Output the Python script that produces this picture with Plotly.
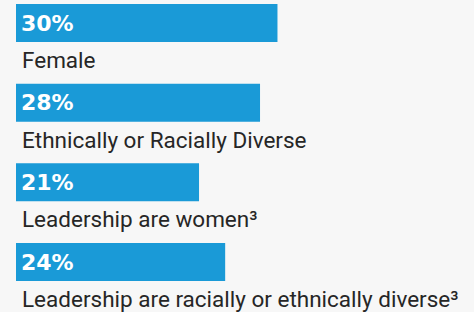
import plotly.graph_objects as go

categories = [
    "Female",
    "Ethnically or Racially Diverse",
    "Leadership are women³",
    "Leadership are racially or ethnically diverse³",
]
values = [30, 28, 21, 24]
value_labels = ["30%", "28%", "21%", "24%"]

BAR_COLOR = "#1a9ad7"
BG = "#f7f7f7"
TEXT = "#262626"

fig = go.Figure()
fig.add_trace(go.Bar(
    x=values,
    y=categories,
    orientation="h",
    width=0.477,
    marker=dict(color=BAR_COLOR, line=dict(width=0)),
    hoverinfo="skip",
))

annotations = []
for cat, lab in zip(categories, value_labels):
    annotations.append(dict(
        x=0, y=cat, xref="x", yref="y",
        text=f"<b>{lab}</b>", showarrow=False,
        xanchor="left", yanchor="middle", xshift=3, yshift=0,
        font=dict(family="DejaVu Sans", size=22, color="white"),
    ))
    annotations.append(dict(
        x=0, y=cat, xref="x", yref="y",
        text=cat, showarrow=False,
        xanchor="left", yanchor="top", xshift=4, yshift=-22,
        font=dict(family="Roboto", size=22.5, color=TEXT),
    ))

fig.update_layout(
    width=474, height=312,
    margin=dict(l=16, r=0, t=0, b=0),
    paper_bgcolor=BG, plot_bgcolor=BG,
    showlegend=False,
    annotations=annotations,
    xaxis=dict(range=[0, 52.55], visible=False, fixedrange=True),
    yaxis=dict(type="category", categoryorder="array", categoryarray=categories,
               range=[3.627, -0.2887], visible=False, fixedrange=True),
)

fig.write_html("out.html", config=dict(displayModeBar=False),
               post_script="document.body.style.margin='0';document.body.style.background='#f7f7f7';")
